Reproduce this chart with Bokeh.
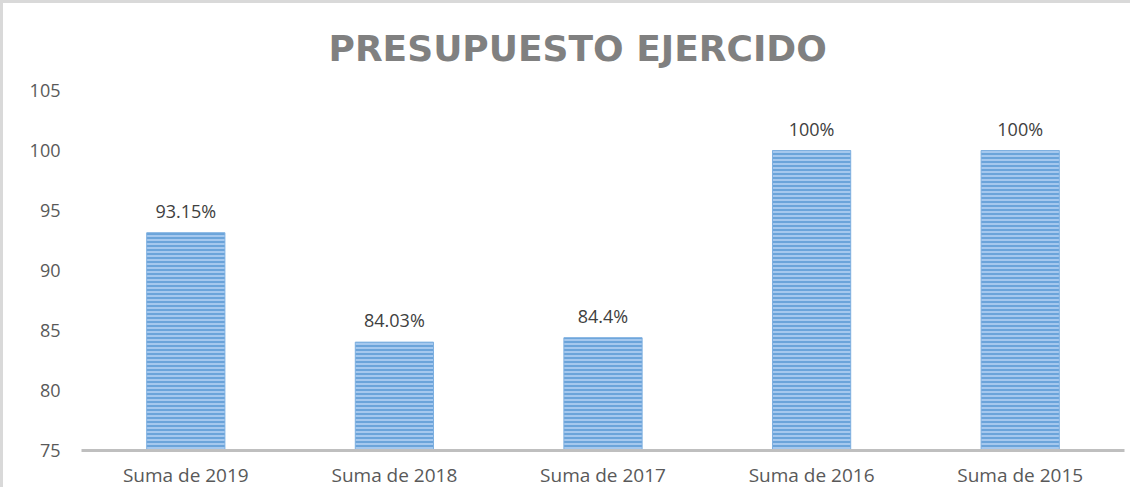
from bokeh.plotting import figure
from bokeh.models import ColumnDataSource, FactorRange, Range1d, FixedTicker
from bokeh.embed import file_html
from bokeh.resources import INLINE
from bokeh.core.properties import value

categories = ["Suma de 2019", "Suma de 2018", "Suma de 2017", "Suma de 2016", "Suma de 2015"]
values = [93.15, 84.03, 84.4, 100, 100]
labels = ["93.15%", "84.03%", "84.4%", "100%", "100%"]
y_ticks = [75, 80, 85, 90, 95, 100, 105]

src = ColumnDataSource(dict(cat=categories, val=values, lab=labels))

p = figure(
    x_range=FactorRange(*categories, range_padding=0),
    y_range=Range1d(75, 105),
    width=1130, height=487,
    output_backend="svg", toolbar_location=None,
    min_border_left=78, min_border_right=9, min_border_top=0, min_border_bottom=35,
    title="PRESUPUESTO EJERCIDO",
)
p.styles = {"border-top": "3px solid #d9d9d9", "border-left": "3px solid #d9d9d9"}
p.outline_line_color = None
p.background_fill_color = "white"
p.border_fill_color = "white"

p.title.align = "left"
p.title.text_font = "DejaVu Sans"
p.title.text_font_style = "bold"
p.title.text_font_size = "36px"
p.title.text_color = "#808080"
p.title.offset = 239
if "padding" in p.title.properties():
    p.title.padding = 8
    p.title.standoff = 28
else:
    p.title.standoff = 44

p.vbar(x="cat", top="val", bottom=75, width=0.375, source=src,
       fill_color="#a5c8ee", line_color="#7fb0e0", line_width=1,
       hatch_pattern="horizontal_line", hatch_color="#5b9bd5",
       hatch_scale=4, hatch_weight=1.6, hatch_alpha=1.0)

p.text(x="cat", y="val", text="lab", source=src, text_align="center",
       text_baseline="bottom", y_offset=-10, text_font=value("Open Sans"),
       text_font_size="18px", text_color="#404040")

p.xgrid.grid_line_color = None
p.ygrid.grid_line_color = None

p.yaxis.ticker = FixedTicker(ticks=y_ticks)
p.yaxis.axis_line_color = None
p.yaxis.major_tick_line_color = None
p.yaxis.minor_tick_line_color = None
p.yaxis.major_label_text_font = "Open Sans"
p.yaxis.major_label_text_font_size = "18px"
p.yaxis.major_label_text_color = "#595959"
p.yaxis.major_label_standoff = 15

p.xaxis.axis_line_color = "#bfbfbf"
p.xaxis.axis_line_width = 3
p.xaxis.major_tick_line_color = None
p.xaxis.minor_tick_line_color = None
p.xaxis.major_label_text_font = "Open Sans"
p.xaxis.major_label_text_font_size = "19px"
p.xaxis.major_label_text_color = "#595959"
p.xaxis.major_label_standoff = 5

open("out.html", "w").write(file_html(p, INLINE))
